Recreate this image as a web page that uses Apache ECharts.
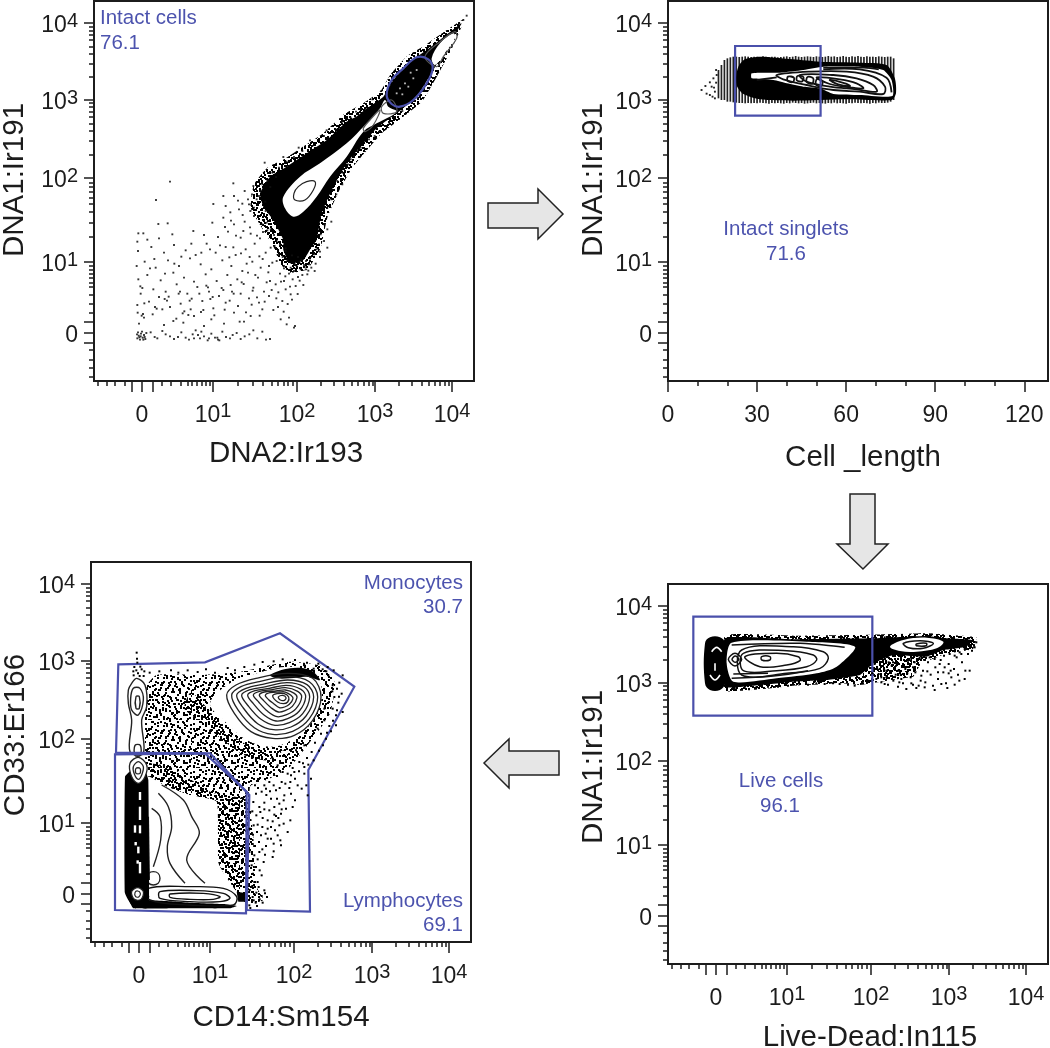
<!DOCTYPE html>
<html><head><meta charset="utf-8">
<style>html,body{margin:0;padding:0;background:#fff}#c{width:1050px;height:1048px}</style>
<script src="https://cdn.jsdelivr.net/npm/echarts@6/dist/echarts.min.js"></script>
</head><body><div id="c"></div>
<script>
// ===== axis tick positions on the biexponential display-channel scale (0-1140) =====
const channelMax = 1140;
const decadeLabels = {144:'0',357:'10{s|1}',609:'10{s|2}',843:'10{s|3}',1074:'10{s|4}'};
const biexLabelTicks = [144,357,609,843,1074];
const biexMajorTicks = [114,144,177,357,609,843,1074];
const biexMinorTicks = [12,39,63,93,204,231,259,282,294,309,322,334,347,
  432,476,507,532,551,568,582,595, 680,720,750,773,792,809,823,835, 913,953,982,1004,1023,1038,1052,1063];
const lengthMax = 128;
const lengthMajorTicks = [0,30,60,90,120];
const lengthMinorTicks = [10,20,40,50,70,80,100,110];

// ===== panel 1: DNA2:Ir193 vs DNA1:Ir191 =====
const p1Fringe = [[1110,1085],[1040,1040],[990,1005],[940,975],[890,920],[860,870],[810,835],[750,800],[690,745],[630,705],[570,665],[520,640],[480,590],[470,520],[510,450],[540,400],[560,350],[590,325],[640,335],[680,400],[700,490],[735,570],[775,640],[825,700],[865,745],[925,790],[985,840],[1035,925],[1075,1000]];
const p1Envelope = [[1103,1073],[1038,1023],[998,993],[948,958],[898,903],[868,853],[818,818],[790,795],[758,778],[698,723],[638,683],[578,643],[528,613],[498,563],[508,523],[538,483],[568,423],[568,393],[588,353],[628,363],[653,403],[668,423],[683,503],[718,583],[758,653],[808,713],[848,758],[908,803],[968,853],[1018,933],[1058,1003]];
const p1Hollow = [[568,553],[618,613],[678,653],[758,713],[813,768],[858,818],[873,843],[883,823],[908,808],[848,773],[808,748],[758,673],[708,613],[668,553],[628,508],[598,493],[573,518]];
const p1HollowTip = [[1013,968],[1038,1013],[1078,1043],[1083,1028],[1048,978],[1023,948]];
const p1Contours = [
 [[638,598],[663,598],[658,573],[633,543],[603,543],[600,563],[613,583]],
 [[808,758],[828,783],[858,813],[838,768],[813,748]],
 [[863,823],[893,843],[908,808],[868,803]],
 [[993,973],[1038,1018],[1083,1048],[1088,1028],[1048,973],[1028,943]]
];
const p1Gate = [[878,858],[893,831],[918,823],[958,843],[998,893],[1016,938],[1003,965],[968,971],[928,938],[893,903]];
const p1Specks = [[918,878],[933,893],[958,908],[908,863],[968,933],[943,883],[925,860],[950,925]];
const p1Dots = [[130,128],[134,136],[138,124],[141,142],[146,130],[150,138],[154,126],[132,146],[144,148],[157,144],[136,131],[148,124],[140,134],[152,132],[129,140],
[170,146],[182,132],[190,128],[205,150],[215,140],[228,134],[240,126],[252,132],[262,146],[275,130],[285,124],[296,140],[305,152],[318,128],[330,134],[341,122],[352,142],[363,130],[372,124],[385,148],[396,132],[408,128],[416,138],[428,144],[440,126],[452,134],[466,140],[478,152],[490,128],[505,148],[516,124],[528,126],[300,128],[312,138],[322,148],[370,130],[376,122],[345,128],
[135,172],[210,168],[268,175],[330,165],[390,172],[450,178],[578,170],[600,160],[560,185],[131,205],[150,190],[176,200],[205,215],[238,180],[300,195],[352,185],[420,205],[470,195],[505,215],[552,222],[585,190],[603,165],[130,228],[165,238],[195,252],[228,222],[260,232],[290,215],[325,240],[358,218],[395,235],[432,225],[465,248],[495,235],[525,255],[565,240],[590,260],[140,262],[178,275],[215,268],[248,290],[280,262],[310,282],[345,268],[375,255],[410,288],[440,262],[478,280],[510,268],[545,290],[575,275],[605,285],[133,305],[160,318],[200,302],[238,325],[270,310],[300,298],[335,320],[368,300],[400,318],[430,305],[462,325],[492,310],[528,300],[558,322],[596,305],[625,318],[128,345],[152,358],[185,340],[222,362],[255,345],[288,368],[320,350],[352,335],[385,362],[412,345],[445,330],[475,358],[500,340],[535,355],[570,338],[600,350],[635,335],[648,362],[132,390],[172,402],[210,385],[240,408],[275,392],[305,378],[338,412],[365,385],[395,402],[425,378],[455,395],[482,412],[515,385],[542,405],[575,390],[130,418],[160,424],[195,428],[235,440],[148,443],[133,443],[193,471],[221,473],[186,543],[228,598],[358,531],[418,593],[298,450],[330,438],[372,432],[402,448],[440,430],[470,442],[498,428],[520,452],[355,475],[388,490],[420,470],[452,478],[480,495],[505,470],[395,525],[435,515],[465,530],[488,545],[420,555],[452,570],[478,585],[505,590],[520,600],[535,625],[555,640],[578,658],[600,672],[625,690],[655,705],[690,735],[725,755],[770,790],[800,815],[835,845],[862,870],[548,420],[558,408],[575,398],[590,340],[608,345],[630,348],[650,372],[668,395],[680,440],[690,470],[700,520],[712,545],[730,600],[745,625],[770,665],[790,690],[825,725],[855,748],[885,775],[925,810],[570,345],[600,330],[620,335],[645,350],[525,345],[548,360],[566,372],[660,380],[675,410],[540,438],[530,455],[518,475],[510,500],[1118,1096],[1108,1083],[1096,1072],[480,520],[462,545],[495,555],[515,510],[530,400],[552,378],[640,320],[612,312],[585,322],[570,300],[665,352],[678,372],[690,420],[700,455],
[143,196],[147,201],[139,284],[145,279],[151,233],[183,222],[188,217],[212,246],[219,241],[224,253],[266,203],[271,209],[247,187],[254,262],[258,268],[283,198],[287,241],[293,247],[316,262],[321,207],[328,213],[337,286],[342,281],[349,246],[356,252],[361,197],[383,279],[388,273],[392,214],[407,241],[414,268],[419,262],[437,178],[443,296],[449,291],[456,206],[473,229],[476,271],[484,318],[489,251],[497,196],[512,238],[518,296],[523,326],[533,273],[538,213],[547,248],[553,266],[561,298],[569,208],[574,314],[581,231],[588,283],[594,244],[611,261],[617,301],[628,288],[632,342],[643,331],[612,372],[622,364],[594,377],[580,362],[506,366],[496,374],[467,372],[458,352],[441,383],[418,401],[406,371],[378,407],[348,395],[322,385],[292,412],[262,373],[241,352],[213,322],[181,366],[168,338],[426,436],[448,450],[468,461],[489,436],[507,447],[393,462],[411,481],[446,498],[469,510],[432,541],[409,506],[388,555],[445,532],[474,560],[514,538],[498,570],[529,582],[512,655],[546,612],[568,672],[614,700],[648,722],[698,752],[745,778],[786,808],[603,350],[617,358],[636,360],[652,340],[662,330],[678,388],[700,400],[712,478],[727,560],[745,590],[762,650],[780,675],[800,700],[842,735]];

// ===== panel 2: Cell_length vs DNA1:Ir191 =====
const p2Lengths  = [17,18,19,20,21,22,23,24,25,26,27,28,29,30,31,32,33,34,35,36,37,38,39,40,41,42,43,44,45,46,47,48,49,50,51,52,53,54,55,56,57,58,59,60,61,62,63,64,65,66,67,68,69,70,71,72,73,74,75,76];
const p2StripeHi = [933,948,963,968,971,973,973,972,973,974,973,972,973,973,972,974,973,972,973,973,971,972,973,974,972,973,975,973,972,973,974,973,972,974,973,972,973,975,973,974,972,973,975,973,972,974,973,975,973,972,974,973,973,972,974,973,972,973,973,968];
const p2StripeLo = [848,843,843,838,838,836,835,834,834,833,834,833,834,833,835,834,833,832,834,833,834,833,832,834,833,835,834,833,834,832,833,834,835,833,834,833,832,834,833,835,833,834,833,832,834,833,835,834,833,834,833,832,834,833,835,834,834,835,838,843];
const p2Envelope = [[22.9,908],[23.7,943],[25.9,965],[31,973],[42.2,965],[51.2,958],[64.6,955],[73.6,948],[76.4,908],[76.8,863],[75.3,843],[60.2,845],[42.2,841],[31,845],[25.4,861],[23.3,883]];
const p2Hollow = [[28.2,923],[37.7,925],[45.6,933],[52.3,943],[64.6,943],[72.5,933],[75.3,903],[75.6,855],[64.6,858],[55.7,861],[51.2,878],[45.6,883],[40,893],[35.5,903],[28.2,908]];
const p2Contours = [
 [[36.6,918],[47.8,928],[60.2,928],[69.1,913],[73.1,883],[72.5,861],[64.6,868],[55.7,873],[46.7,888],[38.8,905]],
 [[44.4,918],[55.7,918],[63.5,908],[69.1,888],[70.3,868],[63.5,875],[54.5,883],[46.7,898]],
 [[50.1,911],[57.9,905],[63.5,893],[65.8,878],[61.3,881],[54.5,891]],
 [[54.5,903],[59.6,893],[61.3,885],[57.3,890]],
 [[40.4,913],[42.4,910],[42.1,897],[40.3,900]],
 [[43.6,915],[45.6,912],[45.2,899],[43.4,902]],
 [[47,912],[48.9,908],[48.6,892],[46.7,897]],
 [[50.2,906],[52,900],[51.6,884],[49.8,889]]
];
const p2Strands = [
 [[52.3,935],[64.6,935],[73.6,910],[75.3,866]],
 [[29.9,903],[36.6,911]],
 [[52.3,940],[66,940],[71,935]]
];
const p2Gate = [[22.6,1005],[51.4,1005],[51.4,796],[22.6,796]];
const p2Dots = [[11.3,873],[14.1,896],[15.3,908],[14.1,858],[15.8,848],[14.7,883],[15.8,868],[15,853],[16.2,933],[16.4,918],[16.2,895],[15.5,880],[13,862],[12.6,885]];

// ===== panel 3: Live-Dead:In115 vs DNA1:Ir191 =====
const p3Speckled = [[506,882],[616,942],[676,932],[776,932],[736,862],[576,837],[476,847]];
const p3Fringe = [[171,986],[376,985],[616,988],[776,992],[840,988],[925,980],[915,945],[830,930],[780,910],[680,915],[620,890],[580,855],[480,840],[376,835],[276,824],[171,820]];
const p3Band = [[171,977],[376,974],[616,977],[776,984],[836,977],[911,972],[896,952],[826,942],[776,922],[676,927],[616,902],[576,867],[476,852],[376,847],[276,837],[171,832]];
const p3Capsule = [[111,962],[126,980],[156,980],[171,962],[171,842],[156,822],[126,822],[111,842]];
const p3Hollow = [[191,964],[416,967],[561,952],[506,892],[446,872],[326,857],[196,847],[176,902]];
const p3Island = [[666,952],[706,972],[776,979],[826,967],[806,947],[746,937],[696,939]];
const p3Contours = [
 [[201,932],[221,914],[201,894],[181,914]],
 [[202,924],[212,914],[202,905],[192,914]],
 [[221,942],[376,952],[466,937],[481,917],[456,887],[356,872],[221,867]],
 [[226,932],[356,940],[436,927],[446,912],[416,892],[326,880],[226,880]],
 [[231,922],[326,932],[391,922],[396,910],[356,897],[276,892]],
 [[281,922],[306,922],[306,912],[281,912]],
 [[706,962],[756,970],[796,962],[766,947],[721,949]],
 [[745,960],[775,962],[775,955],[745,955]]
];
const p3Strands = [
 [[191,957],[396,962],[530,950]],
 [[191,857],[316,864],[420,880]],
 [[196,870],[300,872]]
];
const p3CapsuleMarks = [
 [[131,937],[146,950],[161,937]],
 [[141,902],[141,880]],
 [[126,867],[141,852],[156,867]]
];
const p3Gate = [[76,1042],[613,1042],[613,745],[76,745]];
const p3Dots = [[620,900],[632,870],[640,915],[648,888],[655,860],[662,905],[668,878],[676,850],[684,895],[690,915],[698,868],[705,842],[712,885],[720,905],[728,860],[735,838],[742,875],[750,900],[758,850],[765,880],[772,845],[780,905],[788,868],[795,835],[802,890],[810,855],[818,912],[826,875],[834,842],[842,900],[850,860],[858,885],[866,920],[874,850],[882,905],[880,930],[890,945],[900,930],[905,880],[912,960],[905,968],[895,962],[918,955],[912,940],[875,935],[860,925],[845,930],[828,925],[815,900],[800,915],[785,920],[770,912],[755,918],[740,905],[725,915],[705,900],[690,880],[675,905],[660,925],[645,935],[630,938],[625,855],[640,845],[660,838],[690,832],[715,825],[745,828],[770,830],[800,822],[838,828],[870,868],[890,855],[842,872],[820,840],[860,838],[600,850],[585,842],[560,835],[540,838],[515,840],[495,842],[470,840],[445,842],[420,838],[395,840],[360,835],[330,832],[300,832],[265,830],[230,828],[200,828],[650,840],[700,855],[735,890],[760,865],[778,878],[752,835],[683,868],[671,895],[655,880],[640,860],[628,885],[612,872],[718,872],[730,842],[694,845],[810,875],[830,890],[848,880],[892,880],[920,950],[925,965],[700,978],[740,982],[790,988],[650,980],[600,980],[520,978],[440,976],[360,978],[280,978],[210,980]];

// ===== panel 4: CD14:Sm154 vs CD33:Er166 =====
const p4Mottled = [[167,766],[197,801],[327,801],[447,811],[597,841],[697,826],[732,776],[717,686],[677,626],[597,526],[527,486],[477,466],[487,316],[497,166],[517,126],[467,116],[437,146],[397,266],[377,421],[172,496],[162,616]];
const p4Thick = [[172,536],[237,526],[367,446],[467,426],[467,166],[437,151],[382,236],[377,421],[297,441],[227,466],[172,496]];
const p4ThickUpper = [[300,750],[350,700],[400,640],[470,590],[545,560],[600,590],[530,545],[460,560],[390,610],[330,660],[280,700]];
const p4Crescent = [[537,801],[597,821],[657,816],[687,786],[647,796],[597,791],[557,791]];
const p4Blob = [[357,716],[417,776],[497,806],[597,826],[677,801],[692,736],[667,666],[617,616],[547,586],[467,606],[397,666]];
const p4BlobContours = [
 [[407,741],[435,771],[495,791],[590,806],[665,791],[690,735],[665,665],[610,620],[545,611],[480,631],[430,686]],
 [[422,741],[450,766],[505,781],[590,796],[655,781],[680,735],[655,670],[605,632],[545,623],[490,643],[442,695]],
 [[437,741],[465,761],[515,773],[590,786],[648,772],[668,735],[645,678],[600,645],[548,637],[500,655],[457,702]],
 [[452,741],[478,757],[525,766],[588,778],[640,765],[656,735],[635,685],[595,658],[552,650],[510,668],[472,708]],
 [[470,741],[492,754],[535,761],[586,770],[630,758],[644,735],[625,693],[590,670],[555,663],[520,680],[487,715]],
 [[487,741],[506,752],[545,757],[584,763],[620,752],[632,735],[615,700],[587,682],[558,676],[530,692],[503,720]],
 [[505,741],[520,750],[555,753],[583,756],[610,746],[618,733],[604,707],[584,695],[562,690],[540,703],[518,724]],
 [[523,740],[537,748],[565,750],[583,750],[600,740],[606,730],[595,713],[581,705],[565,703],[548,715],[533,727]],
 [[545,738],[558,745],[580,745],[593,735],[590,720],[577,715],[560,720]],
 [[562,735],[575,740],[585,733],[580,725],[568,726]]
];
const p4Column = [[102,496],[122,516],[162,516],[172,486],[175,136],[167,116],[122,111],[102,146]];
const p4ColumnUpper = [[122,776],[137,791],[162,771],[167,706],[152,666],[157,566],[117,571],[122,666],[112,716],[112,756]];
const p4ColumnUpperInner = [[[127,761],[147,761],[157,726],[142,681],[122,696],[119,731]],[[135,736],[145,736],[145,701],[135,701]],[[132,590],[148,590],[148,560],[132,560]]];
const p4Stack = [[[117,536],[142,554],[167,531],[162,496],[142,476],[122,496]],[[127,526],[142,541],[157,526],[152,501],[142,488],[130,504]],[[135,521],[147,521],[147,506],[135,506]]];
const p4ColumnDashes = [[[147,450],[147,426]],[[147,406],[147,366]],[[132,350],[132,328]],[[147,350],[147,326]],[[142,286],[142,266]],[[147,240],[147,206]],[[134,300],[134,290]],[[140,245],[140,235]]];
const p4Foot = [[[122,151],[140,163],[157,151],[150,128],[130,128]],[[132,148],[140,153],[148,146],[144,136],[134,136]]];
const p4Hollow = [[172,496],[227,466],[297,441],[377,421],[382,236],[412,176],[437,151],[442,116],[297,114],[172,141]];
const p4Circle = [[187,211],[207,191],[187,171],[169,191]];
const p4Strands = [
 [[202,446],[232,406],[242,346],[229,286],[237,236],[282,176]],
 [[212,471],[277,426],[302,376],[325,326],[287,246],[342,176]],
 [[182,401],[207,376],[209,306],[187,226]],
 [[172,376],[175,186]]
];
const p4Bands = [
 [[172,161],[297,166],[397,161],[437,136],[427,111],[297,111],[177,126]],
 [[207,151],[317,154],[397,146],[417,131],[387,121],[297,121],[207,131]],
 [[237,144],[337,146],[387,136],[367,128],[297,128],[237,134]]
];
const p4Foot2 = [[112,131],[167,126],[257,121],[297,118],[397,114],[437,108],[417,101],[257,101],[127,101]];
const p4Corner = [[437,151],[467,146],[467,121],[442,121]];
const p4MonoGate = [[82,833],[342,839],[567,926],[790,766],[652,516],[657,91],[467,96],[475,441],[357,566],[75,568]];
const p4LymphGate = [[72,563],[342,566],[467,451],[465,86],[72,96]];
const p4Dots = [[137,868],[138,850],[139,838],[130,825],[148,826],[136,815],[152,818],[141,806],[127,812],[160,812],[128,800],[146,798],[158,798],[176,808],[205,812],[240,815],[262,808],[290,815],[320,810],[345,818],[372,808],[410,822],[432,815],[460,825],[490,832],[515,840],[548,842],[575,848],[612,846],[648,838],[682,835],[710,825],[728,815],[745,778],[738,760],[752,745],[730,735],[742,718],[725,700],[735,680],[700,665],[715,648],[690,625],[705,610],[672,598],[662,570],[648,552],[625,540],[640,525],[605,522],[590,505],[612,490],[572,480],[595,462],[555,455],[580,440],[540,430],[565,415],[520,418],[535,395],[550,382],[515,372],[500,352],[530,340],[510,320],[548,295],[525,288],[548,272],[505,270],[518,240],[495,225],[512,200],[500,180],[520,155],[528,135],[515,118],[498,108],[478,102],[488,125],[660,490],[620,470],[650,440],[605,405],[570,385],[598,365],[565,350],[590,330],[560,320],[540,310],[570,290],[530,365],[487,420],[505,405],[478,390],[495,445],[520,470],[480,300],[490,260],[482,230],[496,148],[490,180],[485,135],[475,110],[755,690],[700,700],[735,650],[680,640],[640,590],[615,575],[585,555],[560,530],[540,510],[725,770],[712,800],[695,818],[755,800],[668,820],[640,830],[558,498],[600,500],[640,505],[575,510],[525,460],[535,480],[550,405],
[492,470],[501,462],[512,451],[526,441],[537,452],[548,470],[566,462],[583,475],[598,480],[610,510],[624,512],[636,536],[652,532],[668,545],[684,574],[696,590],[708,628],[720,632],[726,664],[738,695],[744,736],[724,752],[706,812],[484,392],[496,380],[508,390],[520,398],[488,350],[476,340],[498,330],[486,322],[514,345],[524,325],[504,300],[492,288],[514,278],[482,270],[500,248],[486,205],[503,165],[512,138],[494,118],[506,128],[522,146],[476,156],[484,168],[558,430],[572,398],[545,362],[562,372],[585,400],[612,425],[632,460],[646,470],[600,445],[578,425],[555,378],[540,345],[552,335],[578,355],[530,310],[545,255],[568,305],[506,215],[522,262]];

// ===== texture of unresolved events in dense regions (tile positions) =====
const tilePoints = [[1,3],[7,1],[13,5],[20,2],[27,6],[33,1],[40,4],[46,8],[4,9],[10,12],[17,10],[24,13],[30,9],[37,11],[43,15],[2,16],[8,19],[15,17],[21,20],[28,16],[35,18],[41,22],[47,20],[5,24],[12,23],[18,26],[25,24],[32,27],[38,25],[44,29],[1,29],[8,31],[14,30],[22,32],[29,31],[36,33],[42,35],[47,34],[4,36],[11,37],[18,35],[25,38],[31,36],[39,40],[45,41],[2,42],[9,44],[16,41],[23,45],[30,42],[36,46],[43,46],[6,47],[19,47]];

// ===== labels =====
const FONT = '"Liberation Sans", Arial, sans-serif';
const gateBlue = '#4a50ab', textBlue = '#4c53ae', ink = '#1c1c1c';

function makeTile(copies){
  const cv = document.createElement('canvas'); cv.width = cv.height = 48;
  const ctx = cv.getContext('2d'); ctx.fillStyle = '#fff'; ctx.fillRect(0,0,48,48); ctx.fillStyle = '#000';
  copies.forEach(o => tilePoints.forEach(p => { ctx.fillRect((p[0]+o[0])%48,(p[1]+o[1])%48,2,2); }));
  return {image: cv, repeat: 'repeat'};
}
const tileLight = makeTile([[0,0],[17,29],[31,11],[9,41]]);
const tileDense = makeTile([[0,0],[17,29],[31,11],[9,41],[25,19],[40,33],[5,14]]);

const grids = [
  {left:94, top:1,   xName:'DNA2:Ir193',      yName:'DNA1:Ir191', xPad:[0,0,0,4],  yPad:[0,0,0,22], yGap:64, xGap:58},
  {left:668,top:1,   xName:'Cell _length',    yName:'DNA1:Ir191', xPad:[0,0,0,10], yPad:[0,0,0,22], yGap:59, xGap:62, linear:true},
  {left:668,top:584, xName:'Live-Dead:In115', yName:'DNA1:Ir191', xPad:[0,0,0,24], yPad:[0,0,0,14], yGap:59, xGap:59},
  {left:91, top:562, xName:'CD14:Sm154',      yName:'CD33:Er166', xPad:[0,0,0,0],  yPad:[0,0,0,34], yGap:60, xGap:61}
];
const rich = {s:{fontFamily:FONT,fontSize:20,color:ink,lineHeight:16,verticalAlign:'top'}};
const biexLabel = v => decadeLabels[v];

const option = {animation:false, backgroundColor:'#fff', grid:[], xAxis:[], yAxis:[], series:[], graphic:[]};
grids.forEach((g,i)=>{
  option.grid.push({left:g.left, top:g.top, width:380, height:380, show:true, borderColor:ink, borderWidth:2, backgroundColor:'transparent', containLabel:false, outerBoundsMode:'none'});
  const lin = g.linear;
  option.xAxis.push({gridIndex:i, type:'value', min:0, max: lin?lengthMax:channelMax, position:'bottom', splitLine:{show:false}, axisLine:{show:false},
    name:g.xName, nameLocation:'middle', nameGap:g.xGap, nameTextStyle:{fontFamily:FONT,fontSize:29.5,color:ink,padding:g.xPad},
    axisTick:{show:true,length:11,lineStyle:{color:ink,width:1.5},customValues: lin?lengthMajorTicks:biexMajorTicks},
    axisLabel:{show:true,margin:20,fontFamily:FONT,fontSize:23,color:ink,hideOverlap:false,showMinLabel:true,showMaxLabel:true,lineHeight:30,rich,customValues: lin?lengthMajorTicks:biexLabelTicks,formatter: lin?(v=>String(v)):biexLabel}
  });
  option.xAxis.push({gridIndex:i, type:'value', min:0, max: lin?lengthMax:channelMax, position:'bottom', splitLine:{show:false}, axisLine:{show:false},
    axisLabel:{show:false}, axisTick:{show:true,length:5,lineStyle:{color:ink,width:1.5},customValues: lin?lengthMinorTicks:biexMinorTicks}});
  option.yAxis.push({gridIndex:i, type:'value', min:0, max:channelMax, position:'left', splitLine:{show:false}, axisLine:{show:false},
    name:g.yName, nameLocation:'middle', nameGap:g.yGap, nameTextStyle:{fontFamily:FONT,fontSize:29.5,color:ink,padding:g.yPad},
    axisTick:{show:true,length:10,lineStyle:{color:ink,width:1.5},customValues:biexMajorTicks},
    axisLabel:{show:true,margin:16,fontFamily:FONT,fontSize:23,color:ink,hideOverlap:false,lineHeight:30,padding:[6,0,0,0],rich,customValues:biexLabelTicks,formatter:biexLabel}
  });
  option.yAxis.push({gridIndex:i, type:'value', min:0, max:channelMax, position:'left', splitLine:{show:false}, axisLine:{show:false},
    axisLabel:{show:false}, axisTick:{show:true,length:5,lineStyle:{color:ink,width:1.5},customValues:biexMinorTicks}});
});

function shape(panel, pts, o){
  o = o || {};
  const axis = panel*2;
  option.series.push({type:'custom', coordinateSystem:'cartesian2d', xAxisIndex:axis, yAxisIndex:axis, silent:true, clip:true,
    data:pts, encode:{x:0,y:1},
    renderItem(params, api){
      if(params.dataIndex!==0) return null;
      const points = pts.map(p=>api.coord(p));
      return {type:o.open?'polyline':'polygon', silent:true, shape:{points, smooth:o.smooth===undefined?0.35:o.smooth},
        style:{fill:o.open?null:(o.fill||null), stroke:o.stroke||null, lineWidth:o.lw||1}};
    }});
}
function dots(panel, pts, size, color, opacity){
  const axis = panel*2;
  option.series.push({type:'scatter', xAxisIndex:axis, yAxisIndex:axis, silent:true, symbol:'rect', symbolSize:size, data:pts,
    itemStyle:{color:color||'#000', opacity:opacity||1}});
}

// panel 1
dots(0,p1Dots,1.9,'#111',0.85);
shape(0,p1Fringe,{fill:tileDense,smooth:0.15});
shape(0,p1Envelope,{fill:'#000',smooth:0.15});
shape(0,p1Hollow,{fill:'#fff'});
shape(0,p1HollowTip,{fill:'#fff'});
p1Contours.forEach((c,i)=>shape(0,c,{stroke:i===0?'#222':'#555',lw:1.2}));
dots(0,p1Specks,1.8,'#bbb');
shape(0,p1Gate,{stroke:gateBlue,lw:2.2});

// panel 2
dots(1,p2Dots,1.9,'#222');
const p2Stripes = p2Lengths.map((l,i)=>[l,p2StripeLo[i],p2StripeHi[i]]);
option.series.push({type:'custom',coordinateSystem:'cartesian2d',xAxisIndex:2,yAxisIndex:2,silent:true,data:p2Stripes,encode:{x:0,y:[1,2]},
  renderItem(params,api){const a=api.coord([api.value(0),api.value(1)]),b=api.coord([api.value(0),api.value(2)]);
    return {type:'line',silent:true,shape:{x1:a[0],y1:a[1],x2:b[0],y2:b[1]},style:{stroke:'#222',lineWidth:1.7}};}});
shape(1,p2Envelope,{fill:'#000',smooth:0.25});
shape(1,p2Hollow,{fill:'#fff',smooth:0.2});
p2Contours.forEach(c=>shape(1,c,{stroke:'#111',lw:1.8}));
p2Strands.forEach(c=>shape(1,c,{stroke:'#111',lw:1.8,open:true}));
shape(1,p2Gate,{stroke:gateBlue,lw:2.2,smooth:0});

// panel 3
shape(2,p3Speckled,{fill:tileDense,smooth:0});
dots(2,p3Dots,2,'#000');
shape(2,p3Fringe,{fill:tileDense,smooth:0.1});
shape(2,p3Band,{fill:'#000',smooth:0.12});
shape(2,p3Capsule,{fill:'#000',smooth:0.4});
shape(2,p3Hollow,{fill:'#fff',smooth:0.25});
shape(2,p3Island,{fill:'#fff'});
p3Contours.forEach(c=>shape(2,c,{stroke:'#111',lw:1.5}));
p3Strands.forEach(c=>shape(2,c,{stroke:'#111',lw:1.5,open:true}));
p3CapsuleMarks.forEach(c=>shape(2,c,{stroke:'#fff',lw:1.6,open:true}));
shape(2,p3Gate,{stroke:gateBlue,lw:2.2,smooth:0});

// panel 4
shape(3,p4Mottled,{fill:tileLight,smooth:0.2});
shape(3,p4Thick,{fill:tileDense,smooth:0.1});
shape(3,p4ThickUpper,{fill:tileDense,smooth:0.2});
dots(3,p4Dots,2,'#000');
shape(3,p4Blob,{fill:'#fff'});
shape(3,p4Crescent,{fill:'#000'});
p4BlobContours.forEach(c=>shape(3,c,{stroke:'#222',lw:1.3}));
shape(3,p4Hollow,{fill:'#fff',smooth:0.1});
shape(3,p4Corner,{fill:'#000',smooth:0});
shape(3,p4Foot2,{fill:'#000',smooth:0.1});
p4Bands.forEach(c=>shape(3,c,{stroke:'#111',lw:1.4,fill:null}));
p4Strands.forEach(c=>shape(3,c,{stroke:'#222',lw:1.4,open:true}));
shape(3,p4Circle,{stroke:'#222',lw:1.4,smooth:0.6});
shape(3,p4ColumnUpper,{fill:'#fff',stroke:'#222',lw:1.4});
p4ColumnUpperInner.forEach(c=>shape(3,c,{stroke:'#222',lw:1.4}));
shape(3,p4Column,{fill:'#000',smooth:0.1});
p4Stack.forEach((c,i)=>shape(3,c,{fill:'#fff',stroke:'#222',lw:1.3}));
p4ColumnDashes.forEach(c=>shape(3,c,{stroke:'#fff',lw:2.4,open:true,smooth:0}));
p4Foot.forEach(c=>shape(3,c,{fill:'#fff',stroke:'#222',lw:1.2}));
shape(3,p4MonoGate,{stroke:gateBlue,lw:2.2,smooth:0});
shape(3,p4LymphGate,{stroke:gateBlue,lw:2.2,smooth:0});

// gate captions
function caption(text,x,y,align){
  option.graphic.push({type:'text',silent:true,z:50,style:{text,x,y,fill:textBlue,font:'20.5px '+FONT,textAlign:align,textVerticalAlign:'middle'}});
}
caption('Intact cells',100,18,'left'); caption('76.1',100,43,'left');
caption('Intact singlets',786,229,'center'); caption('71.6',786,254,'center');
caption('Live cells',781,781,'center'); caption('96.1',780,806,'center');
caption('Monocytes',463,583,'right'); caption('30.7',463,607,'right');
caption('Lymphocytes',463,901,'right'); caption('69.1',463,925,'right');

// workflow arrows
function arrow(points){
  option.graphic.push({type:'polygon',silent:true,z:50,shape:{points},style:{fill:'#e6e6e6',stroke:'#222',lineWidth:1.5}});
}
arrow([[488,203],[538,203],[538,189],[563,214],[538,239],[538,228],[488,228]]);
arrow([[850,494],[875,494],[875,544],[888,544],[863,569],[837,544],[850,544]]);
arrow([[559,751],[509,751],[509,739],[484,763],[509,788],[509,775],[559,775]]);

const chart = echarts.init(document.getElementById('c'),null,{renderer:'canvas',width:1050,height:1048});
chart.setOption(option);
</script></body></html>
